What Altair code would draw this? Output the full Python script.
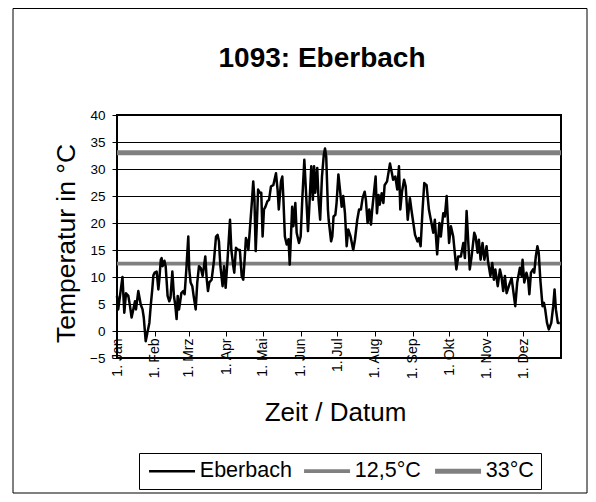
import json
import altair as alt
import pandas as pd

# ---------------- data ----------------
chart_title = "1093: Eberbach"
station = "Eberbach"
threshold_names = ["12,5°C", "33°C"]
thresholds = [12.5, 33.0]

month_labels = ["1. Jan", "1. Feb", "1. Mrz", "1. Apr", "1. Mai", "1. Jun",
                "1. Jul", "1. Aug", "1. Sep", "1. Okt", "1. Nov", "1. Dez"]
month_start = [0, 31, 59, 90, 120, 151, 181, 212, 243, 273, 304, 334]
year_days = 365
y_ticks = [-5, 0, 5, 10, 15, 20, 25, 30, 35, 40]

days = [0, 1, 4.5, 6, 7.4, 9.3, 10.7, 12, 13.4, 14.8, 15.6, 17.5, 19.5, 21, 22, 23.6, 25, 26.6, 27.7, 29,
        29.9, 31, 32.6, 34, 34.8, 36, 36.7, 37.5, 39, 40, 41.6, 43, 44, 45.5, 46.8, 48, 49, 49.9, 51, 51.8,
        52.9, 54.5, 55.6, 57, 58.6, 59.4, 60.5, 61.9, 63, 64.7, 66, 67.4, 68.8, 70.4, 72.6, 73.7, 74.8, 75.9,
        77.8, 79.7, 81.4, 82.7, 83.8, 85, 86.8, 88, 89.3, 90.7, 92.9, 94, 95.6, 96.4, 97.8, 99.7, 101, 102.5,
        103.8, 104.9, 106, 107, 108, 110, 111, 112, 113, 114, 115, 116, 117.5, 118.6, 119.7, 120.8, 122,
        123.6, 125, 126.6, 128.5, 130.7, 132, 133, 134.8, 135.9, 136.7, 138, 139.5, 141, 142, 143, 144, 145,
        146.6, 147.7, 149.6, 151, 152.3, 154, 155, 157, 158, 159.7, 161, 162, 163, 164.6, 165.7, 167, 168.5,
        170, 171, 172, 173.4, 174, 176, 177, 178, 179.5, 180.5, 182,
        183.3, 184.7, 186, 187.4, 188.8, 190.1, 192, 194.2, 195.6, 197.5, 199, 200.5, 201.9, 203.6, 204.6,
        206, 207.4, 208.8, 209.8, 212.6, 213.7, 215, 216, 217.6, 219, 220, 222, 224.4, 226, 227, 228.8,
        230.4, 231.8, 232.9, 234.3, 236, 237.3, 239, 240.8, 242, 243.6, 245, 247, 248.2, 249.6, 251.2,
        252.6, 254.5, 256.4, 258, 260, 261.3, 263.2, 265, 266.2, 268.2, 269.5, 271, 273, 274.5, 276.4, 279,
        280.5, 282.7, 284.7, 286, 287.4, 288.8, 290, 291.5, 293.7, 294.8, 296.4, 297.5, 298.9, 300.5, 302,
        303.8, 305, 307, 308.5, 309.8, 311, 313, 314.8, 316, 317.5, 318.9, 320.3, 322.5, 324.4, 327.4, 329,
        331.2, 332.6, 333.4, 334.8, 336.6, 338, 339, 340.3, 342, 343, 344.3, 345.6, 346.7, 348, 349.8, 351,
        352, 353.5, 355, 357, 358.6, 359.7, 360.8, 362.4, 364]

temps = [6.5, 4.0, 10.0, 3.4, 7.0, 6.5, 4.6, 2.5, 4.0, 5.5, 4.0, 7.4, 4.9, 4.0, 2.5, -1.9, -0.3, 1.5, 4.6, 7.7,
         10.3, 10.8, 11.0, 7.7, 9.5, 13.2, 13.5, 12.0, 13.0, 12.0, 6.5, 5.5, 6.2, 11.0, 6.5, 4.6, 2.2, 6.5, 4.0, 5.2,
         7.0, 7.4, 6.8, 11.4, 17.5, 11.4, 9.0, 8.3, 6.5, 4.0, 9.0, 12.0, 11.7, 10.2, 13.8, 9.8, 7.4, 9.0,
         9.5, 13.0, 17.5, 17.8, 16.6, 12.0, 8.3, 12.0, 8.0, 12.6, 20.6, 15.0, 12.0, 10.8, 15.4, 15.0, 15.0, 10.2,
         9.5, 13.2, 17.2, 16.6, 15.0, 21.2, 24.3, 27.7, 24.3, 14.8, 20.0, 26.2, 25.6, 25.6, 17.5, 22.5, 23.0,
         24.0, 24.3, 26.8, 27.0, 29.2, 26.2, 22.5, 27.7, 28.6, 25.0, 17.5, 16.0, 17.0, 12.3, 17.5, 23.0, 19.4,
         23.7, 18.2, 16.3, 17.5, 24.3, 31.7, 27.4, 18.5, 22.5, 30.5, 24.3, 30.5, 25.6, 30.2, 24.3, 20.6, 28.6,
         32.6, 33.8, 32.3, 22.5, 20.6, 16.6, 17.5, 21.2, 21.5, 23.7, 29.0,
         26.2, 23.0, 25.0, 21.8, 15.7, 18.8, 17.5, 15.0, 16.9, 20.6, 22.5, 22.5, 24.6, 25.8, 24.3,
         20.0, 22.5, 19.7, 22.5, 28.6, 21.8, 25.2, 23.4, 25.5, 23.7, 27.0, 27.7, 31.0, 29.2, 28.0, 28.6,
         26.2, 30.5, 22.5, 25.8, 28.0, 26.8, 20.6, 24.6, 22.5, 20.0, 17.8, 16.6, 17.2, 15.7, 22.5,
         27.4, 27.0, 22.5, 20.6, 18.2, 20.6, 14.2, 20.0, 17.5, 21.8, 21.2, 25.0, 16.3, 19.4, 17.5, 11.4,
         13.8, 13.8, 16.3, 13.5, 22.2, 16.3, 11.4, 13.8, 18.2, 17.5, 14.5, 16.9, 13.2, 16.3, 13.2,
         15.7, 12.9, 10.2, 12.6, 9.5, 11.4, 8.3, 11.4, 10.2, 7.4, 10.2, 7.0, 8.6, 9.8, 4.6, 9.0,
         11.7, 10.2, 13.2, 9.0, 10.8, 9.5, 6.8, 10.8, 11.4, 10.8, 13.8, 15.7, 14.5, 9.5, 4.6, 5.2,
         4.0, 1.5, 0.3, 1.5, 4.6, 7.7, 4.0, 1.5, 1.5]

series_order = [station] + threshold_names
series_colors = ["#000000", "#808080", "#808080"]
series_widths = [2.5, 5, 5]

# ---------------- tables ----------------
station_df = pd.DataFrame({"series": station, "day": days, "temp": temps})
thr_rows = []
for name, val in zip(threshold_names, thresholds):
    thr_rows.append({"series": name, "day": 0, "temp": val})
    thr_rows.append({"series": name, "day": year_days, "temp": val})
thr_df = pd.DataFrame(thr_rows)

FONT = "Liberation Sans"
label_expr = f"{json.dumps(month_labels)}[indexof({json.dumps(month_start)}, datum.value)]"

x_enc = alt.X(
    "day:Q",
    scale=alt.Scale(domain=[0, year_days], nice=False, zero=False),
    axis=alt.Axis(
        values=month_start, labelExpr=label_expr, labelAngle=-90, labelFontSize=14,
        labelFont=FONT, labelColor="black", labelPadding=2, tickSize=5, tickColor="black",
        domain=False, grid=False, offset=-27,
        title="Zeit / Datum", titleFont=FONT, titleFontSize=26, titleFontWeight="normal",
        titleColor="black", titleY=89, titleBaseline="alphabetic", titleX=218,
        titleAlign="center",
    ),
)
y_enc = alt.Y(
    "temp:Q",
    scale=alt.Scale(domain=[-5, 40], nice=False, zero=False),
    axis=alt.Axis(
        values=y_ticks, labelFontSize=13.5, labelFont=FONT, labelColor="black", labelPadding=7,
        tickSize=5, tickColor="black", domain=False, grid=True, gridColor="black",
        gridWidth=1, title="Temperatur in °C", titleFont=FONT, titleFontSize=26.5,
        titleFontWeight="normal", titleColor="black", titleAngle=-90, titleX=-51,
        titleY=128, titleBaseline="middle", titleAlign="center",
    ),
)
# symbol: long horizontal stroke (46 px) while keeping the entry height small
legend = alt.Legend(
    orient="none", legendX=22, legendY=338, direction="horizontal",
    symbolType="M-3,0H3", symbolSize=235, symbolOffset=15.3,
    labelFont=FONT, labelFontSize=21.5, labelColor="black", labelOffset=17,
    columnPadding=4, padding=7, strokeColor="black", fillColor="white", columns=3,
    titleFontSize=0, titlePadding=0,
)
color_enc = alt.Color("series:N", scale=alt.Scale(domain=series_order, range=series_colors),
                      legend=legend, title="")
width_enc = alt.StrokeWidth("series:N", scale=alt.Scale(domain=series_order, range=series_widths),
                            legend=legend, title="")

thr_layer = alt.Chart(thr_df).mark_line().encode(x=x_enc, y=y_enc, color=color_enc,
                                                 strokeWidth=width_enc, detail="series:N")
station_layer = alt.Chart(station_df).mark_line(strokeJoin="round").encode(
    x=x_enc, y=y_enc, color=color_enc, strokeWidth=width_enc, detail="series:N")

frame = alt.Chart(pd.DataFrame({"k": [0]})).mark_rect(
    fillOpacity=0, stroke="black", strokeWidth=1
).encode(x=alt.value(-104), x2=alt.value(470), y=alt.value(-106.5), y2=alt.value(378))

title_layer = alt.Chart(pd.DataFrame({"t": [chart_title]})).mark_text(
    font=FONT, fontSize=28, fontWeight="bold", align="center", baseline="alphabetic", color="black"
).encode(text="t:N", x=alt.value(205), y=alt.value(-48))

chart = alt.layer(frame, thr_layer, station_layer, title_layer).properties(
    width=444, height=243,
    autosize=alt.AutoSizeParams(type="none"),
    padding={"left": 109, "top": 107, "right": 27, "bottom": 136},
).configure(background="white").configure_view(stroke="black", strokeWidth=2)

chart.save("out.html", embed_options={"renderer": "svg", "actions": False})
